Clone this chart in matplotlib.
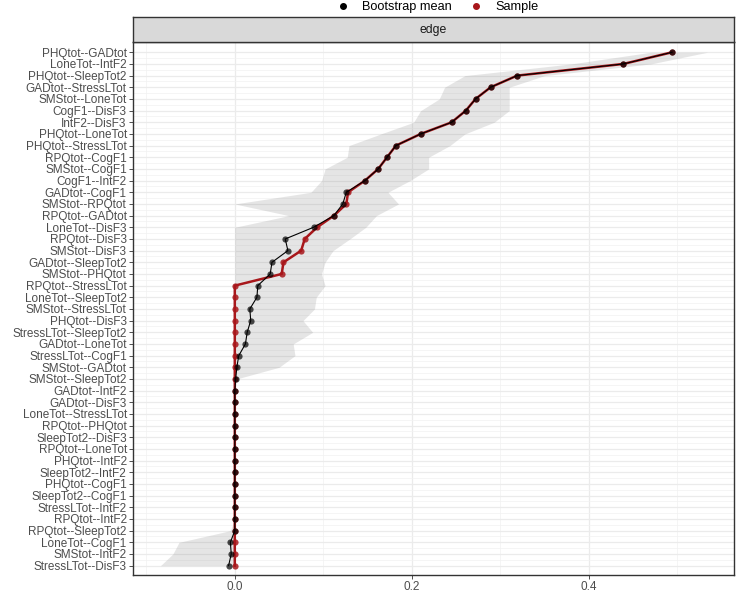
import numpy as np
import matplotlib.pyplot as plt
from matplotlib.lines import Line2D

plt.rcParams["font.family"] = ["Liberation Sans", "DejaVu Sans"]

# edges, top to bottom
edges = [
    "PHQtot--GADtot", "LoneTot--IntF2", "PHQtot--SleepTot2", "GADtot--StressLTot",
    "SMStot--LoneTot", "CogF1--DisF3", "IntF2--DisF3", "PHQtot--LoneTot",
    "PHQtot--StressLTot", "RPQtot--CogF1", "SMStot--CogF1", "CogF1--IntF2",
    "GADtot--CogF1", "SMStot--RPQtot", "RPQtot--GADtot", "LoneTot--DisF3",
    "RPQtot--DisF3", "SMStot--DisF3", "GADtot--SleepTot2", "SMStot--PHQtot",
    "RPQtot--StressLTot", "LoneTot--SleepTot2", "SMStot--StressLTot", "PHQtot--DisF3",
    "StressLTot--SleepTot2", "GADtot--LoneTot", "StressLTot--CogF1", "SMStot--GADtot",
    "SMStot--SleepTot2", "GADtot--IntF2", "GADtot--DisF3", "LoneTot--StressLTot",
    "RPQtot--PHQtot", "SleepTot2--DisF3", "RPQtot--LoneTot", "PHQtot--IntF2",
    "SleepTot2--IntF2", "PHQtot--CogF1", "SleepTot2--CogF1", "StressLTot--IntF2",
    "RPQtot--IntF2", "RPQtot--SleepTot2", "LoneTot--CogF1", "SMStot--IntF2",
    "StressLTot--DisF3",
]

boot_mean = [
    0.494, 0.439, 0.319, 0.289, 0.272, 0.261, 0.245, 0.210, 0.182, 0.172,
    0.162, 0.147, 0.126, 0.122, 0.112, 0.089, 0.057, 0.060, 0.042, 0.040,
    0.026, 0.025, 0.017, 0.018, 0.014, 0.012, 0.0045, 0.0023, 0.001, 0.0,
    0.0, 0.0, 0.0, 0.0, 0.0, 0.0, 0.0, 0.0, 0.0, 0.0,
    0.0, 0.0, -0.005, -0.004, -0.007,
]

sample = [
    0.494, 0.439, 0.319, 0.289, 0.272, 0.261, 0.245, 0.210, 0.182, 0.172,
    0.162, 0.147, 0.128, 0.126, 0.112, 0.093, 0.079, 0.075, 0.055, 0.053,
    0.0, 0.0, 0.0, 0.0, 0.0, 0.0, 0.0, 0.0, 0.0, 0.0,
    0.0, 0.0, 0.0, 0.0, 0.0, 0.0, 0.0, 0.0, 0.0, 0.0,
    0.0, 0.0, 0.0, 0.0, 0.0,
]

ci_lower = [
    0.470, 0.380, 0.260, 0.237, 0.231, 0.210, 0.202, 0.165, 0.129, 0.127,
    0.102, 0.098, 0.086, 0.0, 0.061, 0.0, 0.0, 0.0, 0.0, 0.0,
    0.0, 0.0, 0.0, 0.0, 0.0, 0.0, 0.0, 0.0, 0.0, 0.0,
    0.0, 0.0, 0.0, 0.0, 0.0, 0.0, 0.0, 0.0, 0.0, 0.0,
    0.0, -0.005, -0.063, -0.070, -0.084,
]

ci_upper = [
    0.534, 0.470, 0.350, 0.310, 0.310, 0.310, 0.293, 0.260, 0.243, 0.219,
    0.219, 0.198, 0.173, 0.185, 0.160, 0.148, 0.130, 0.111, 0.102, 0.098,
    0.102, 0.092, 0.090, 0.077, 0.088, 0.066, 0.068, 0.050, 0.002, 0.0,
    0.0, 0.0, 0.0, 0.0, 0.0, 0.0, 0.0, 0.0, 0.0, 0.0,
    0.0, 0.0, 0.0, 0.0, 0.0,
]

RED = "#A8171B"
n = len(edges)
y = np.arange(n)[::-1] + 1  # top row gets the largest value

fig = plt.figure(figsize=(7.36, 5.94), dpi=100)
ax = fig.add_axes([133 / 736, 1 - 575 / 594, 601 / 736, 533 / 594])

# grid
ax.set_yticks(y)
ax.set_yticks(np.arange(1.5, n, 1.0), minor=True)
ax.set_xticks([0.0, 0.2, 0.4])
ax.set_xticks([-0.1, 0.1, 0.3, 0.5], minor=True)
ax.grid(which="major", color="#EBEBEB", lw=0.9)
ax.grid(which="minor", color="#F2F2F2", lw=0.5)
ax.set_axisbelow(True)

ax.fill_betweenx(y, ci_lower, ci_upper, color="grey", alpha=0.2, lw=0, zorder=2)

ax.plot(sample, y, color=RED, lw=1.8, zorder=3)
ax.scatter(sample, y, s=20, color=RED, alpha=0.85, lw=0, zorder=3)
ax.plot(boot_mean, y, color="black", lw=0.8, zorder=4)
ax.scatter(boot_mean, y, s=20, color="black", alpha=0.7, lw=0, zorder=4)

ax.set_xlim(-0.115, 0.564)
ax.set_ylim(0.2, n + 0.88)
ax.set_yticklabels(edges, fontsize=8.5, color="#4D4D4D")
ax.set_xticklabels(["0.0", "0.2", "0.4"], fontsize=8.5, color="#4D4D4D")
ax.tick_params(which="major", length=3, width=0.6, color="#333333", pad=1.5)
ax.tick_params(which="minor", length=0)
for s in ax.spines.values():
    s.set_color("#333333")
    s.set_linewidth(1.0)

# facet strip
strip = fig.add_axes([133 / 736, 1 - 42 / 594, 601 / 736, 25 / 594])
strip.set_facecolor("#D9D9D9")
strip.set_xticks([])
strip.set_yticks([])
for s in strip.spines.values():
    s.set_color("#333333")
    s.set_linewidth(1.0)
strip.text(0.5, 0.5, "edge", ha="center", va="center", fontsize=8.8,
           color="#1A1A1A", transform=strip.transAxes)

handles = [
    Line2D([], [], marker="o", ls="", color="black", markersize=4),
    Line2D([], [], marker="o", ls="", color=RED, markersize=4),
]
fig.legend(handles, ["Bootstrap mean", "Sample"], loc="upper center",
           bbox_to_anchor=(0.59, 1.017), ncol=2, frameon=False, fontsize=9.2,
           handletextpad=0.5, columnspacing=0.9)

fig.savefig("out.png", dpi=100)
